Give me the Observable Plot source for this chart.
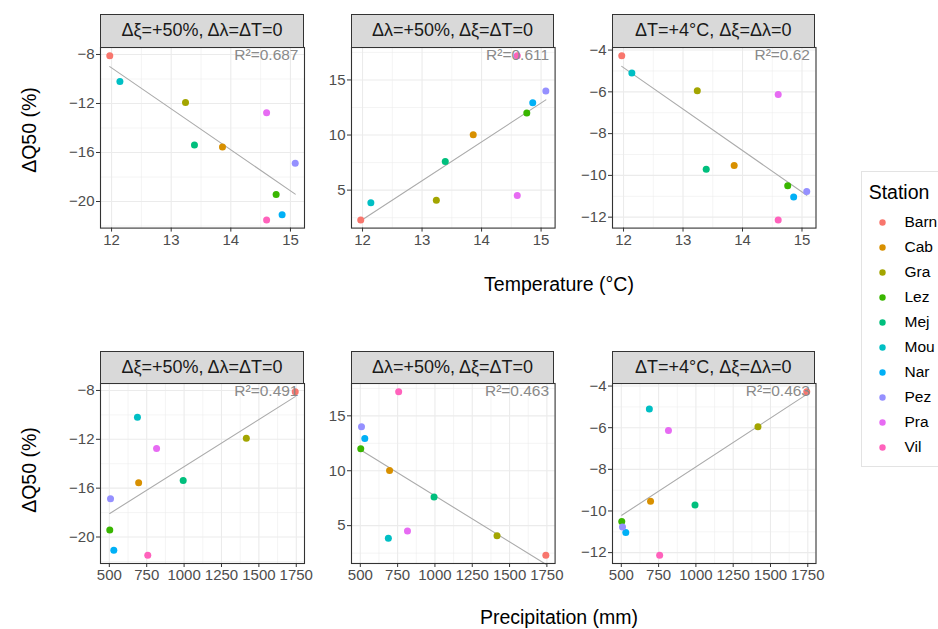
<!DOCTYPE html>
<html><head><meta charset="utf-8">
<script src="https://cdn.jsdelivr.net/npm/d3@7"></script>
<script src="https://cdn.jsdelivr.net/npm/@observablehq/plot@0.6"></script>
<style>
body{margin:0;background:#fff;font-family:"Liberation Sans",Arial,sans-serif;}
#root{position:relative;width:938px;height:629px;overflow:hidden;background:#fff;}
.abs{position:absolute;}
.strip{position:absolute;background:#D9D9D9;border:1px solid #333333;box-sizing:border-box;display:flex;align-items:center;justify-content:center;font-size:18px;color:#1A1A1A;white-space:nowrap;}
.title{position:absolute;font-size:19.5px;color:#000;white-space:nowrap;}
</style></head><body><div id="root"></div>
<script>
// ---- data ----
const stations = ["Barn","Cab","Gra","Lez","Mej","Mou","Nar","Pez","Pra","Vil"];
const stationColors = ["#F8766D","#D89000","#A3A500","#39B600","#00BF7D","#00BFC4","#00B0F6","#9590FF","#E76BF3","#FF62BC"];
const temperature   = [11.97, 13.86, 13.24, 14.76, 13.39, 12.14, 14.86, 15.08, 14.60, 14.60];
const precipitation = [1743, 696, 1416, 503, 994, 688, 530, 508, 816, 757];
const dq50Xi     = [-8.1, -15.56, -11.92, -19.43, -15.38, -10.2, -21.08, -16.87, -12.76, -21.5];
const dq50Lambda = [2.3, 10.03, 4.08, 12.0, 7.6, 3.85, 12.93, 14.0, 4.52, 17.2];
const dq50T      = [-4.27, -9.53, -5.95, -10.5, -9.71, -5.1, -11.03, -10.77, -6.13, -12.13];
const stripLabels = ["Δξ=+50%, Δλ=ΔT=0", "Δλ=+50%, Δξ=ΔT=0", "ΔT=+4°C, Δξ=Δλ=0"];
const r2Temperature = ["R²=0.687", "R²=0.611", "R²=0.62"];
const r2Precipitation = ["R²=0.491", "R²=0.463", "R²=0.463"];
const temperatureTicks = [12, 13, 14, 15];
const precipitationTicks = [500, 750, 1000, 1250, 1500, 1750];
const yTicksXi = [-20, -16, -12, -8];
const yTicksLambda = [5, 10, 15];
const yTicksT = [-12, -10, -8, -6, -4];

// ---- layout ----
const root = document.getElementById("root");
const FONT = "Liberation Sans, Arial, sans-serif";
const cols = [[100, 304], [350.7, 554.3], [611.5, 815]];
const rows = [{strip: 14, top: 46.7, bottom: 227.3}, {strip: 350.7, top: 383.3, bottom: 563.3}];

function expand([a, b]) { const e = (b - a) * 0.05; return [a - e, b + e]; }
function minorTicks(ticks, dom) {
  const step = ticks[1] - ticks[0];
  const out = [];
  for (let v = ticks[0] - step / 2; v <= dom[1]; v += step) if (v >= dom[0]) out.push(v);
  return out;
}
const fmt = d => (d < 0 ? "−" : "") + Math.abs(d);

function panel(col, row, xs, ys, xTicks, yTicks, r2, strip) {
  const [l, r] = cols[col];
  const {strip: st, top, bottom} = rows[row];
  const ml = 50, mr = 3, mt = 3, mb = 30;
  const pw = r - l, ph = bottom - top;
  const data = stations.map((s, i) => ({station: s, x: xs[i], y: ys[i]}));
  const xd = expand(d3.extent(xs)), yd = expand(d3.extent(ys));
  const chart = Plot.plot({
    width: ml + pw + mr, height: mt + ph + mb,
    marginLeft: ml, marginRight: mr, marginTop: mt, marginBottom: mb,
    style: {fontFamily: FONT, overflow: "visible", background: "transparent"},
    x: {domain: xd, axis: null},
    y: {domain: yd, axis: null},
    color: {domain: stations, range: stationColors},
    marks: [
      Plot.ruleX(minorTicks(xTicks, xd), {stroke: "#EBEBEB", strokeWidth: 0.55}),
      Plot.ruleY(minorTicks(yTicks, yd), {stroke: "#EBEBEB", strokeWidth: 0.55}),
      Plot.ruleX(xTicks, {stroke: "#EBEBEB", strokeWidth: 1.1}),
      Plot.ruleY(yTicks, {stroke: "#EBEBEB", strokeWidth: 1.1}),
      Plot.linearRegressionY(data, {x: "x", y: "y", stroke: "#ABABAB", strokeWidth: 1.1, ci: 0}),
      Plot.dot(data, {x: "x", y: "y", fill: "station", r: 3.5}),
      Plot.text([r2], {frameAnchor: "top-right", dx: -6, dy: 1, lineAnchor: "top", textAnchor: "end", fill: "#8A8A8A", fontSize: 15.5}),
      Plot.frame({stroke: "#333333", strokeWidth: 1.1}),
      Plot.axisX(xTicks, {tickSize: 4, tickPadding: 2, stroke: "#333333", fill: "#4D4D4D", fontSize: 15, label: null, tickFormat: fmt}),
      Plot.axisY(yTicks, {tickSize: 4, tickPadding: 2, stroke: "#333333", fill: "#4D4D4D", fontSize: 15, label: null, tickFormat: fmt})
    ]
  });
  chart.style.position = "absolute";
  chart.style.left = (l - ml) + "px";
  chart.style.top = (top - mt) + "px";
  root.appendChild(chart);
  const s = document.createElement("div");
  s.className = "strip";
  s.style.left = l + "px"; s.style.top = st + "px";
  s.style.width = pw + "px"; s.style.height = (top - st + 1) + "px";
  s.textContent = strip;
  root.appendChild(s);
}

const ySets = [[dq50Xi, yTicksXi], [dq50Lambda, yTicksLambda], [dq50T, yTicksT]];
ySets.forEach(([ys, yt], i) => {
  panel(i, 0, temperature, ys, temperatureTicks, yt, r2Temperature[i], stripLabels[i]);
  panel(i, 1, precipitation, ys, precipitationTicks, yt, r2Precipitation[i], stripLabels[i]);
});

// axis titles
function title(text, cx, cy, rotate) {
  const d = document.createElement("div");
  d.className = "title";
  d.textContent = text;
  d.style.left = cx + "px"; d.style.top = cy + "px";
  d.style.transform = "translate(-50%,-50%)" + (rotate ? " rotate(-90deg)" : "");
  root.appendChild(d);
}
title("ΔQ50 (%)", 29, 130, true);
title("ΔQ50 (%)", 29, 470, true);
title("Temperature (°C)", 559, 284, false);
title("Precipitation (mm)", 559, 617, false);

// legend
const box = document.createElement("div");
box.className = "abs";
Object.assign(box.style, {left: "861px", top: "171px", width: "120px", height: "296px", border: "1px solid #E3E3E3", boxSizing: "border-box"});
root.appendChild(box);
title("Station", 899, 192, false);
const leg = Plot.plot({
  width: 77, height: 296, margin: 0,
  style: {fontFamily: FONT, overflow: "visible", background: "transparent"},
  x: {domain: [0, 77], range: [0, 77], axis: null},
  y: {type: "point", domain: stations, range: [51, 276], padding: 0, axis: null},
  color: {domain: stations, range: stationColors},
  marks: [
    Plot.dot(stations, {x: () => 21, y: d => d, fill: d => d, r: 3.2}),
    Plot.text(stations, {x: () => 43, y: d => d, text: d => d, textAnchor: "start", fill: "#000", fontSize: 15.5})
  ]
});
leg.style.position = "absolute"; leg.style.left = "861px"; leg.style.top = "171px";
root.appendChild(leg);
</script></body></html>
